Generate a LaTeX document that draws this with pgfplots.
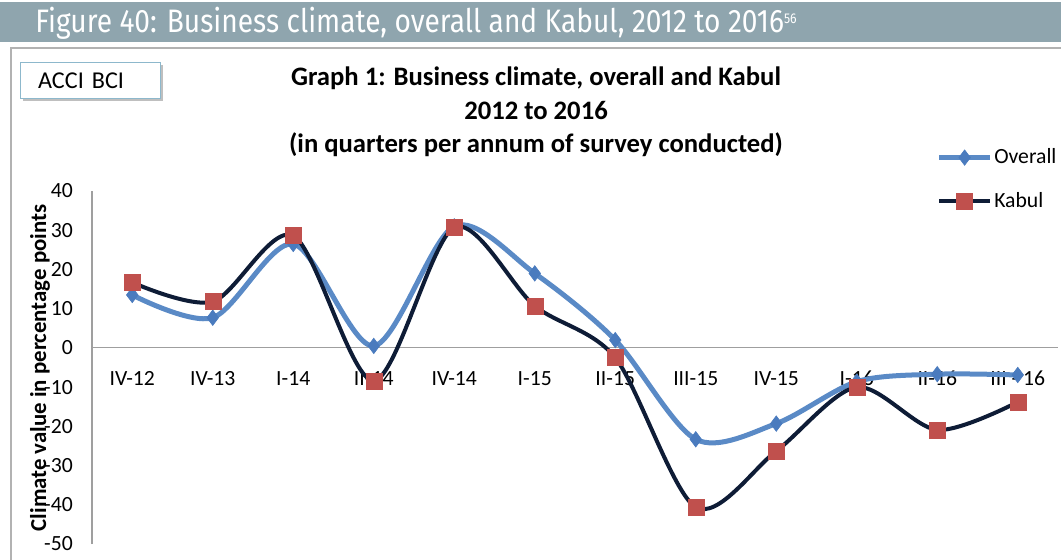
\documentclass[border=0pt]{standalone}
\usepackage{fontspec}
\setmainfont{Carlito}
\newfontfamily\bannerfont[FakeStretch=0.865]{Fira Sans}
\usepackage{pgfplots}
\pgfplotsset{compat=1.18}
\usetikzlibrary{shadows}

\definecolor{banner}{HTML}{8FA5AE}
\definecolor{overall}{HTML}{5A8AC6}
\definecolor{overallmark}{HTML}{4A7BBE}
\definecolor{kabul}{HTML}{0E1C36}
\definecolor{kabulmark}{HTML}{C0504D}
\definecolor{boxline}{HTML}{8DB8CC}

\begin{document}
\begin{tikzpicture}
\useasboundingbox (0pt,0pt) rectangle (636.6pt,-335.4pt);
\begin{scope}[x=0.6pt,y=-0.6pt]
% banner
\fill[banner] (0,2) rectangle (1061,42);
\node[anchor=west, text=white, inner sep=0pt, font=\bannerfont\fontsize{19.5}{22}\selectfont]
  at (35,23) {Figure 40: Business climate, overall and Kabul, 2012 to 2016\raisebox{5.5pt}{\fontsize{8.5}{9}\selectfont 56}};
% chart frame
\draw[gray!60, line width=0.8pt] (11,48) rectangle (1075,575);
% ACCI BCI box
\node[draw=boxline, line width=0.8pt, fill=white, drop shadow={shadow xshift=1.5pt, shadow yshift=-1.5pt, opacity=0.5},
  minimum height=21.6pt, anchor=north west, inner xsep=10.5pt, text width=63pt, align=left,
  font=\fontsize{14.5}{16}\selectfont] at (20,62) {ACCI BCI};
% title
\node[align=center, font=\bfseries\fontsize{16}{20}\selectfont] at (536,112)
  {Graph 1: Business climate, overall and Kabul\\2012 to 2016\\(in quarters per annum of survey conducted)};
% y label
\node[rotate=90, font=\bfseries\fontsize{13.7}{15}\selectfont] at (40,368) {Climate value in percentage points};
\end{scope}

\begin{axis}[
  at={(55.2pt,-326.4pt)}, anchor=south west,
  scale only axis, width=579.6pt, height=211.8pt,
  xmin=-0.5, xmax=11.5, ymin=-50, ymax=40,
  axis x line=middle, axis y line=left,
  axis line style={-, gray!75, line width=0.7pt},
  xtick={0,...,11},
  xticklabels={IV-12,IV-13,I-14,II-14,IV-14,I-15,II-15,III-15,IV-15,I-16,II-16,III - 16},
  ytick={-50,-40,...,40},
  major tick length=0pt,
  tick label style={font=\fontsize{13}{15}\selectfont},
  xticklabel style={yshift=-10.5pt},
  yticklabel style={xshift=-8pt},
  /pgf/number format/assume math mode=true,
  clip=false,
  legend style={at={(rel axis cs:0.874,1.13)}, anchor=north west, draw=none, fill=none,
    row sep=11.5pt, font=\fontsize{13}{15}\selectfont, inner sep=0pt,
    nodes={inner xsep=1pt},
    /tikz/every even column/.append style={column sep=0pt}},
  legend cell align=left,
  legend image code/.code={\draw[mark repeat=2, mark phase=2, #1] plot coordinates {(0pt,0pt) (15.3pt,0pt) (30.6pt,0pt)};},
]
\addplot[overall, line width=3pt, smooth, tension=0.5, mark=diamond*, mark size=4.6pt,
  mark options={fill=overallmark, draw=overallmark, line width=0.4pt}] coordinates {
  (0,13.5) (1,7.7) (2,26.5) (3,0.5) (4,31) (5,19) (6,2) (7,-23.3) (8,-19.3) (9,-8.6) (10,-6.7) (11,-6.9)
};
\addlegendentry{Overall}
\addplot[kabul, line width=2.4pt, smooth, tension=0.5, mark=square*, mark size=4.8pt,
  mark options={fill=kabulmark, draw=kabulmark, line width=0.3pt}] coordinates {
  (0,16.7) (1,11.8) (2,28.6) (3,-8.4) (4,30.7) (5,10.7) (6,-2.5) (7,-40.6) (8,-26.3) (9,-10) (10,-20.9) (11,-13.8)
};
\addlegendentry{Kabul}
\end{axis}
\end{tikzpicture}
\end{document}
